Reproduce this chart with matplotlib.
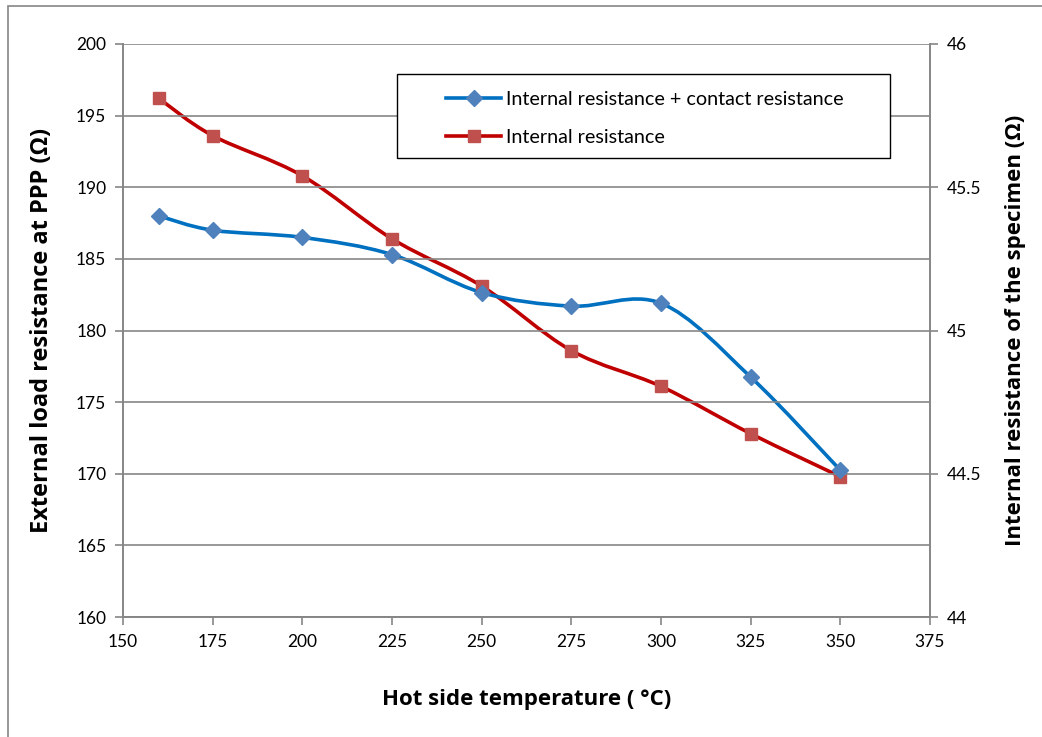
import matplotlib as mpl
import matplotlib.pyplot as plt
from matplotlib.path import Path
from matplotlib.patches import PathPatch, Rectangle
from matplotlib.lines import Line2D
import numpy as np

mpl.rc('font', family=['Lato', 'DejaVu Sans'])

# ---------------------------------------------------------------- data
temps = [160, 175, 200, 225, 250, 275, 300, 325, 350]
r_total = [188.0, 187.0, 186.5, 185.3, 182.65, 181.7, 181.9, 176.75, 170.25]   # left axis
r_internal = [45.81, 45.68, 45.54, 45.32, 45.155, 44.93, 44.805, 44.64, 44.49]  # right axis

lbl_total = 'Internal resistance + contact resistance'
lbl_internal = 'Internal resistance'

blue_line, blue_mark = '#0070C0', '#4F81BD'
red_line, red_mark = '#C00000', '#C0504D'
grid_c = '#868686'


def smooth_path(xs, ys, xlim, ylim):
    # excel-like smoothed line: cubic bezier through points, built in axes coords
    x = (np.array(xs) - xlim[0]) / (xlim[1] - xlim[0])
    y = (np.array(ys) - ylim[0]) / (ylim[1] - ylim[0])
    p = np.column_stack([x, y])
    n = len(p)
    verts = [p[0]]
    codes = [Path.MOVETO]
    for i in range(n - 1):
        p0 = p[i - 1] if i > 0 else p[i]
        p3 = p[i + 2] if i + 2 < n else p[i + 1]
        c1 = p[i] + (p[i + 1] - p0) / 6
        c2 = p[i + 1] - (p3 - p[i]) / 6
        verts += [c1, c2, p[i + 1]]
        codes += [Path.CURVE4] * 3
    return Path(verts, codes)


fig = plt.figure(figsize=(10.42, 7.37), dpi=100)
fig.patches.append(Rectangle((8 / 1042, -0.01), 1.2, 1 - 6 / 737 + 0.01, transform=fig.transFigure,
                             fill=False, edgecolor=grid_c, lw=1.2))

ax = fig.add_axes([123 / 1042, 1 - 617 / 737, (930 - 123) / 1042, (617 - 44) / 737])
ax2 = ax.twinx()

xlim = (150, 375)
ylim1 = (160, 200)
ylim2 = (44, 46)
ax.set_xlim(xlim)
ax.set_ylim(ylim1)
ax2.set_ylim(ylim2)

ax.set_xticks(np.arange(150, 376, 25))
ax.set_yticks(np.arange(160, 201, 5))
ax2.set_yticks([44, 44.5, 45, 45.5, 46])
ax2.set_yticklabels(['44', '44.5', '45', '45.5', '46'])

ax.grid(axis='y', color=grid_c, lw=1.2)
ax.set_axisbelow(True)
for a in (ax, ax2):
    for s in ('left', 'right', 'bottom'):
        a.spines[s].set_color(grid_c)
        a.spines[s].set_linewidth(1.2)
    a.spines['top'].set_visible(False)
    a.tick_params(direction='out', length=6, width=1.2, color=grid_c, labelsize=12.5, pad=6)

# lines
ax2.add_patch(PathPatch(smooth_path(temps, r_internal, xlim, ylim2), transform=ax2.transAxes,
                        fill=False, edgecolor=red_line, lw=2.6, capstyle='round', clip_on=False))
ax2.plot(temps, r_internal, ls='none', marker='s', ms=9, color=red_mark, clip_on=False)
ax2.add_patch(PathPatch(smooth_path(temps, r_total, xlim, ylim1), transform=ax2.transAxes,
                        fill=False, edgecolor=blue_line, lw=2.6, capstyle='round', clip_on=False))
ax.plot(temps, r_total, ls='none', marker='D', ms=8.5, color=blue_mark, clip_on=False)
ax.set_zorder(ax2.get_zorder() + 1)
ax.patch.set_visible(False)

lab_font = dict(family=['Open Sans', 'DejaVu Sans'], fontsize=16, fontweight='bold')
ax.set_xlabel('Hot side temperature ( °C)', labelpad=28, **lab_font)
ax.set_ylabel('External load resistance at PPP (\u03a9)', labelpad=16, fontsize=17,
              family=['Open Sans', 'DejaVu Sans'], fontweight='bold')
ax2.set_ylabel('Internal resistance of the specimen (\u03a9)', labelpad=17, **lab_font)

# legend box (frame drawn separately so the entries can sit inset like excel)
ax.add_patch(Rectangle(((397 - 123) / 807, 1 - (158 - 44) / 573), (890 - 397) / 807, (158 - 74) / 573,
                       transform=ax.transAxes, facecolor='white', edgecolor='black', lw=1.0, zorder=9))
handles = [Line2D([], [], color=blue_line, lw=2.6, marker='D', ms=8, mfc=blue_mark, mec=blue_mark),
           Line2D([], [], color=red_line, lw=2.6, marker='s', ms=9, mfc=red_mark, mec=red_mark)]
leg = ax.legend(handles, [lbl_total, lbl_internal], loc='center left',
                bbox_to_anchor=((446 - 123) / 807, 1 - (118.5 - 44) / 573),
                fontsize=14.2, frameon=False, handlelength=2.8, labelspacing=1.05,
                borderpad=0, borderaxespad=0, handletextpad=0.25)
leg.set_zorder(10)

fig.savefig('out.png', dpi=100)
